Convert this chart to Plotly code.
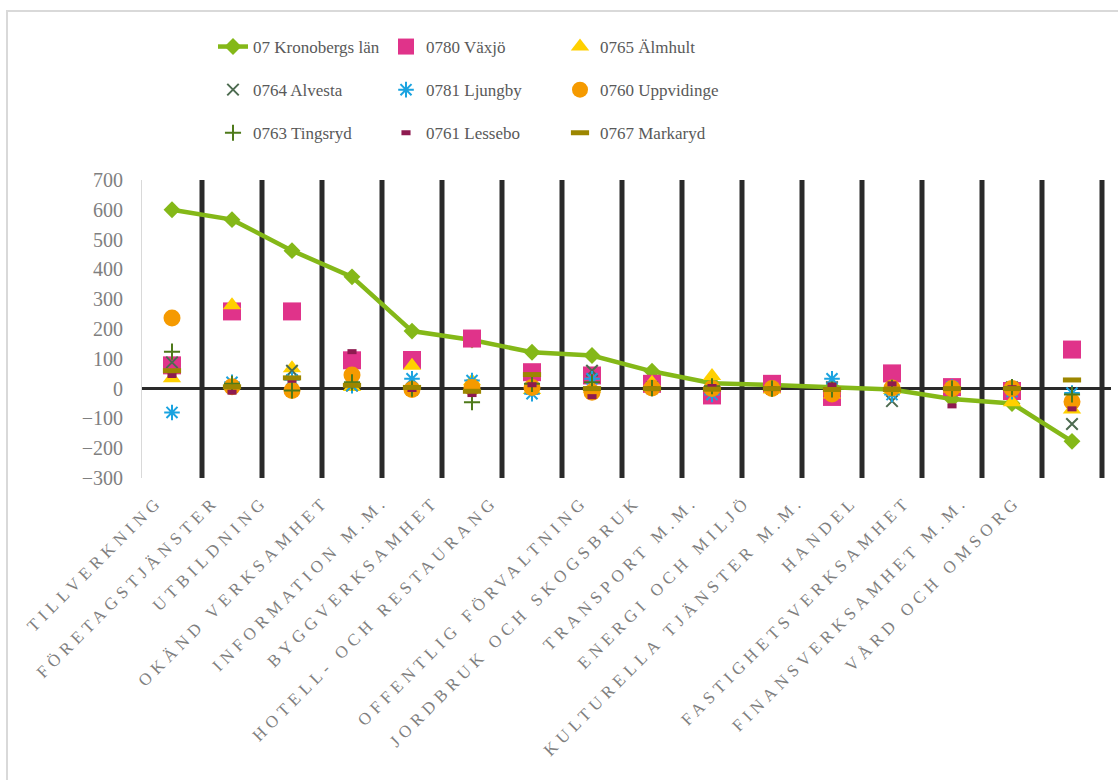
import plotly.graph_objects as go

categories = [
    "TILLVERKNING", "FÖRETAGSTJÄNSTER", "UTBILDNING", "OKÄND VERKSAMHET",
    "INFORMATION M.M.", "BYGGVERKSAMHET", "HOTELL- OCH RESTAURANG",
    "OFFENTLIG FÖRVALTNING", "JORDBRUK OCH SKOGSBRUK", "TRANSPORT M.M.",
    "ENERGI OCH MILJÖ", "KULTURELLA TJÄNSTER M.M.", "HANDEL",
    "FASTIGHETSVERKSAMHET", "FINANSVERKSAMHET M.M.", "VÅRD OCH OMSORG",
]

kronoberg  = [600, 567, 463, 375, 193, 163, 122, 111, 58, 18, 12, 5, -3, -35, -50, -177]
vaxjo      = [78, 259, 259, 95, 96, 168, 55, 44, 16, -23, 16, -28, 51, 5, -8, 131]
almhult    = [35, 280, 68, 5, 77, 25, -5, 0, 20, 42, -3, -20, -5, 0, -46, -70]
alvesta    = [88, 6, 60, 10, -3, 10, 0, 60, 5, 0, 0, 5, -42, 0, 5, -119]
ljungby    = [-80, 21, 30, 10, 33, 27, -17, 33, 0, -20, 0, 33, -20, 5, -10, -15]
uppvidinge = [237, 6, -6, 46, -3, 4, 4, -12, 2, 0, 0, -18, 2, 0, 0, -44]
tingsryd   = [124, 16, -6, 21, 0, -46, 16, 21, 2, 8, 0, -3, 3, 0, 5, -20]
lessebo    = [44, -12, 28, 124, -3, -20, 13, -27, 0, 7, 0, 12, 16, -58, 3, -68]
markaryd   = [60, 6, 36, 11, 4, -9, 47, 0, 0, -2, 0, -3, -3, 0, 0, 29]

y_ticks = [-300, -200, -100, 0, 100, 200, 300, 400, 500, 600, 700]

# styling: horizontal nudge (px, leftwards) of each rotated category label
label_nudge_px = [14, 18, 29, 28, 29, 38, 39, 9, 16, 19, 26, 33, 39, 46, 49, 56]

CAT_PX = 60.0
xs = list(range(len(categories)))
boundaries = [i + 0.5 for i in xs]
label_pos = [i - n / CAT_PX for i, n in zip(xs, label_nudge_px)]

FONT = "Liberation Serif, Times New Roman, serif"
GRAY = "#7f7f7f"
DIVIDER = "#2a2a2a"

y_lo, y_hi = y_ticks[0], y_ticks[-1]

fig = go.Figure()

# category divider lines (one after each category), drawn beneath the data
div_x, div_y = [], []
for b in boundaries:
    div_x += [b, b, None]
    div_y += [y_lo, y_hi, None]
fig.add_trace(go.Scatter(
    x=div_x, y=div_y, mode="lines", line=dict(color=DIVIDER, width=5),
    showlegend=False, hoverinfo="skip",
))

# (name, values, symbol, size, color, line width, legend id)
series = [
    ("07 Kronobergs län", kronoberg, "diamond", 13, "#84b818", 0, "legend"),
    ("0780 Växjö", vaxjo, "square", 18, "#e0338a", 0, "legend2"),
    ("0765 Älmhult", almhult, "triangle-up", 16, "#ffd000", 0, "legend3"),
    ("0764 Alvesta", alvesta, "x-thin", 11.5, "#4d6b50", 2, "legend"),
    ("0781 Ljungby", ljungby, "asterisk", 13, "#1aa3e0", 2, "legend2"),
    ("0760 Uppvidinge", uppvidinge, "circle", 17, "#f59a00", 0, "legend3"),
    ("0763 Tingsryd", tingsryd, "cross-thin", 11.5, "#4e7a1a", 2, "legend"),
    ("0761 Lessebo", lessebo, "line-ew", 6.5, "#8e1a50", 5, "legend2"),
    ("0767 Markaryd", markaryd, "line-ew", 13, "#9c8600", 5, "legend3"),
]

for i, (name, vals, sym, size, color, lw, leg) in enumerate(series):
    if i == 0:
        fig.add_trace(go.Scatter(
            x=xs, y=vals, name=name, mode="lines+markers",
            line=dict(color=color, width=4.5),
            marker=dict(symbol=sym, size=size, color=color),
            legend=leg, legendgroup=name,
        ))
    else:
        fig.add_trace(go.Scatter(
            x=xs, y=vals, name=name, mode="markers",
            marker=dict(symbol=sym, size=size, color=color,
                        line=dict(color=color, width=lw)),
            legend=leg, legendgroup=name,
        ))

x_lo, x_hi = -0.5, len(categories) - 0.5 + 0.15
W, H = 1118, 780
ml, mt, mb = 142, 180, 302
pw = int(round((x_hi - x_lo) * CAT_PX))
mr = W - ml - pw
ph = H - mt - mb


def px_x(p):
    return (p - ml) / pw


def px_y(p):
    return (H - mb - p) / ph


legend_common = dict(
    font=dict(family=FONT, size=17, color="#595959"),
    bgcolor="rgba(0,0,0,0)",
    orientation="v",
    tracegroupgap=18,
    xanchor="left", yanchor="top",
)

border = dict(
    type="rect", xref="paper", yref="paper",
    x0=px_x(7), x1=px_x(1130), y0=px_y(790), y1=px_y(11),
    line=dict(color="#d9d9d9", width=2), fillcolor="rgba(0,0,0,0)",
    layer="below",
)

fig.update_layout(
    width=W, height=H,
    margin=dict(l=ml, r=mr, t=mt, b=mb),
    paper_bgcolor="white",
    plot_bgcolor="rgba(0,0,0,0)",
    showlegend=True,
    legend=dict(x=px_x(213), y=px_y(29), **legend_common),
    legend2=dict(x=px_x(386), y=px_y(29), **legend_common),
    legend3=dict(x=px_x(560), y=px_y(29), **legend_common),
    xaxis=dict(
        range=[x_lo, x_hi],
        tickmode="array", tickvals=label_pos, ticktext=categories,
        tickangle=-45,
        tickfont=dict(family=FONT, size=17, color=GRAY),
        showgrid=False, zeroline=False, showline=False, ticks="",
        ticklabelstandoff=9,
    ),
    yaxis=dict(
        range=[y_lo, y_hi],
        tickmode="array", tickvals=y_ticks,
        tickfont=dict(family=FONT, size=20, color=GRAY),
        showgrid=False,
        zeroline=True, zerolinecolor=DIVIDER, zerolinewidth=3,
        showline=True, linecolor="#d9d9d9", linewidth=1,
        ticks="", ticklabelstandoff=14,
    ),
    shapes=[border],
)

post = ("document.body.style.margin='0';"
        "document.body.style.overflow='hidden';"
        "document.documentElement.style.overflow='hidden';"
        "var s=document.createElement('style');"
        "s.innerHTML='.xtick text{letter-spacing:5px;}';"
        "document.head.appendChild(s);")

fig.write_html("out.html", post_script=post,
               config={"displayModeBar": False})
